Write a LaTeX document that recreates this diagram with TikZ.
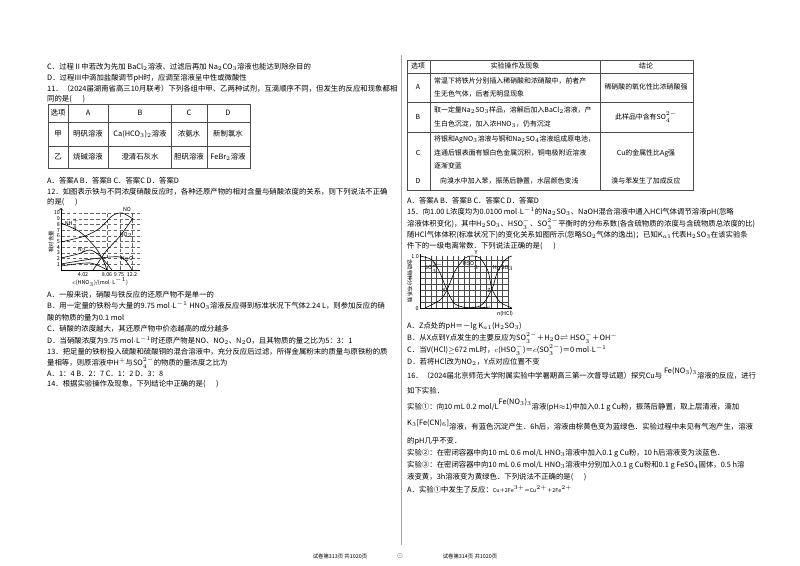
\documentclass[tikz,border=0pt]{standalone}
\usepackage{fontspec}
\setmainfont{Noto Sans CJK SC}
\newcommand{\fs}{\fontsize{6.3}{7.5}\selectfont}
\newcommand{\fst}{\fontsize{5.9}{7}\selectfont}
\newcommand{\fss}{\fontsize{4.6}{5.5}\selectfont}
\tikzset{t/.style={anchor=west,inner sep=0pt,font=\fs,text height=4.5pt,text depth=1pt},
c/.style={inner sep=0pt,font=\fs,text height=4.5pt,text depth=1pt},
tt/.style={t,font=\fst},ct/.style={c,font=\fst},
tl/.style={line width=0.5pt,draw=black!70},
gr/.style={densely dashed,line width=0.3pt,draw=black!60},
cv/.style={line width=0.5pt,smooth}}
\begin{document}
\begin{tikzpicture}[x=0.03cm,y=-0.03cm]
\useasboundingbox (0,0) rectangle (800,566);
\fill[white] (0,0) rectangle (800,566);
\draw[black!35,line width=0.6pt] (401,55) -- (401,545);
% left column
\node[t] (l1) at (47,67) {C．过程Ⅱ中若改为先加 BaCl$_2$溶液、过滤后再加 Na$_2$CO$_3$溶液也能达到除杂目的};
\node[t] (l2) at (47,78) {D．过程Ⅲ中滴加盐酸调节pH时，应调至溶液呈中性或微酸性};
\node[t] (l3) at (47,89) {11．（2024届湖南省高三10月联考）下列各组中甲、乙两种试剂，互滴顺序不同，但发生的反应和现象都相};
\node[t] (l4) at (47,99) {同的是(\quad\ \ )};
\draw[tl] (48,104) rectangle (250,168);
\foreach \y in {122,146} \draw[tl] (48,\y) -- (250,\y);
\foreach \x in {68,108,171,207} \draw[tl] (\x,104) -- (\x,168);
\node[c] at (58,113) {选项}; \node[c] at (88,113) {A}; \node[c] at (140,113) {B}; \node[c] at (189,113) {C}; \node[c] at (228,113) {D};
\node[c] at (58,134) {甲}; \node[c] at (88,134) {明矾溶液}; \node[c] at (140,134) {Ca(HCO$_3$)$_2$溶液}; \node[c] at (189,134) {浓氨水}; \node[c] at (228,134) {新制氯水};
\node[c] at (58,157) {乙}; \node[c] at (88,157) {烧碱溶液}; \node[c] at (140,157) {澄清石灰水}; \node[c] at (189,157) {胆矾溶液}; \node[c] at (228,157) {FeBr$_2$溶液};
\node[t] at (47,181) {A．答案A B．答案B C．答案C D．答案D};
\node[t] at (47,192) {12．如图表示铁与不同浓度硝酸反应时，各种还原产物的相对含量与硝酸浓度的关系，则下列说法不正确};
\node[t] at (47,202) {的是(\quad\ \ )};
% chart 12
\foreach \v in {1,...,10} {\draw[gr] (61,270-5.7*\v) -- (140,270-5.7*\v);
 \node[inner sep=0pt,font=\fss,anchor=east] at (60,270-5.7*\v) {\v};}
\foreach \x in {107,120,132} \draw[gr] (\x,270) -- (\x,213);
\draw[line width=0.6pt,->] (61,270) -- (61,208);
\draw[line width=0.6pt] (61,270) -- (140,270);
\node[inner sep=0pt,font=\fss,rotate=90] at (51,242) {相对含量};
\node[inner sep=0pt,font=\fss] at (83,275) {4.02};
\node[inner sep=0pt,font=\fss] at (107,275) {8.06};
\node[inner sep=0pt,font=\fss] at (119,275) {9.75};
\node[inner sep=0pt,font=\fss] at (132,275) {12.2};
\node[inner sep=0pt,font=\fss] at (100,282) {$c$(HNO$_3$)/(mol$\cdot$L$^{-1}$)};
\draw[cv] plot coordinates {(61,242) (85,236) (100,228) (112,216) (122,213) (133,219)};
\draw[cv] plot coordinates {(61,223) (80,232) (95,247) (103,260) (107,270)};
\draw[cv] plot coordinates {(93,270) (100,260) (107,250) (120,236) (133,218)};
\draw[cv] plot coordinates {(61,258) (78,254) (90,250) (100,256) (112,270)};
\draw[cv] plot coordinates {(61,264) (85,260) (110,257) (123,258) (132,270)};
\draw[cv] plot coordinates {(61,266) (90,263) (107,270)};
\node[inner sep=0pt,font=\fss] at (127,210) {NO};
\node[inner sep=0pt,font=\fss] at (72,224) {NH$_4^+$};
\node[inner sep=0pt,font=\fss] at (126,235) {NO$_2$};
\node[inner sep=0pt,font=\fss] at (82,250) {N$_2$};
\node[inner sep=0pt,font=\fss] at (127,259) {N$_2$O};
\node[t] at (47,295) {A．一般来说，硝酸与铁反应的还原产物不是单一的};
\node[t] at (47,306) {B．用一定量的铁粉与大量的9.75 mol$\cdot$L$^{-1}$ HNO$_3$溶液反应得到标准状况下气体2.24 L，则参加反应的硝};
\node[t] at (47,318) {酸的物质的量为0.1 mol};
\node[t] at (47,329) {C．硝酸的浓度越大，其还原产物中价态越高的成分越多};
\node[t] at (47,341) {D．当硝酸浓度为9.75 mol$\cdot$L$^{-1}$时还原产物是NO、NO$_2$、N$_2$O，且其物质的量之比为5：3：1};
\node[t] at (47,352) {13．把足量的铁粉投入硫酸和硫酸铜的混合溶液中，充分反应后过滤，所得金属粉末的质量与原铁粉的质};
\node[t] at (47,363) {量相等，则原溶液中H$^+$与SO$_4^{2-}$的物质的量浓度之比为};
\node[t] at (47,374) {A．1：4 B．2：7 C．1：2 D．3：8};
\node[t] at (47,384) {14．根据实验操作及现象，下列结论中正确的是(\quad\ \ )};
% right table
\draw[tl] (407,60) rectangle (693,190);
\foreach \y in {73,102,132} \draw[tl] (407,\y) -- (693,\y);
\foreach \x in {430,600} \draw[tl] (\x,60) -- (\x,190);
\node[ct] at (418,66) {选项}; \node[ct] at (515,66) {实验操作及现象}; \node[ct] at (646,66) {结论};
\node[ct] at (418,87) {A}; \node[tt] at (434,81) {常温下将铁片分别插入稀硝酸和浓硝酸中，前者产}; \node[tt] at (434,94) {生无色气体，后者无明显现象};
\node[ct] at (646,87) {稀硝酸的氧化性比浓硝酸强};
\node[ct] at (418,117) {B}; \node[tt] at (434,110) {取一定量Na$_2$SO$_3$样品，溶解后加入BaCl$_2$溶液，产}; \node[tt] at (434,124) {生白色沉淀，加入浓HNO$_3$，仍有沉淀};
\node[ct] at (646,117) {此样品中含有SO$_4^{2-}$};
\node[ct] at (418,153) {C}; \node[tt] at (434,139) {将银和AgNO$_3$溶液与铜和Na$_2$SO$_4$溶液组成原电池，}; \node[tt] at (434,153) {连通后银表面有银白色金属沉积，铜电极附近溶液}; \node[tt] at (434,166) {逐渐变蓝};
\node[ct] at (646,153) {Cu的金属性比Ag强};
\node[ct] at (418,181) {D}; \node[tt] at (440,181) {向溴水中加入苯，振荡后静置，水层颜色变浅};
\node[ct] at (646,181) {溴与苯发生了加成反应};
\node[t] at (407,201) {A．答案A B．答案B C．答案C D．答案D};
\node[t] at (407,212) {15．向1.00 L浓度均为0.0100 mol$\cdot$L$^{-1}$的Na$_2$SO$_3$、NaOH混合溶液中通入HCl气体调节溶液pH(忽略};
\node[t] at (407,224) {溶液体积变化)，其中H$_2$SO$_3$、HSO$_3^-$、SO$_3^{2-}$平衡时的分布系数(各含硫物质的浓度与含硫物质总浓度的比)};
\node[t] at (407,235) {随HCl气体体积(标准状况下)的变化关系如图所示(忽略SO$_2$气体的逸出)；已知K$_{a1}$代表H$_2$SO$_3$在该实验条};
\node[t] at (407,246) {件下的一级电离常数．下列说法正确的是(\quad\ \ )};
% chart 15
\foreach \i in {0,...,16} \draw[black!70,line width=0.3pt] (420+5.5*\i,256) -- (420+5.5*\i,308);
\foreach \j in {0,...,8} \draw[black!70,line width=0.3pt] (420,260+6*\j) -- (508,260+6*\j);
\draw[line width=0.6pt] (420,308) -- (512,308);
\draw[line width=0.6pt] (420,308) -- (420,254);
\draw[cv] plot coordinates {(420,256) (432,260) (440,273) (447,290) (455,304) (470,308) (490,307)};
\draw[cv] plot coordinates {(425,308) (440,300) (447,290) (455,271) (465,258) (472,256) (480,258) (488,271) (492,289) (500,302) (512,308)};
\draw[cv] plot coordinates {(455,308) (480,306) (492,289) (497,273) (505,260) (512,256)};
\node[inner sep=0pt,font=\fss] at (415,257) {1.0};
\node[inner sep=0pt,font=\fss] at (417,309) {0};
\node[inner sep=0pt,font=\fss,rotate=-90] at (410,281) {含硫物种分布系数};
\node[inner sep=0pt,font=\fss] at (434,268) {SO$_3^{2-}$};
\node[inner sep=0pt,font=\fss] at (472,264) {HSO$_3^-$};
\node[inner sep=0pt,font=\fss] at (503,268) {H$_2$SO$_3$};
\node[inner sep=0pt,font=\fss] at (444,291) {X};
\node[inner sep=0pt,font=\fss] at (489,291) {Z};
\node[inner sep=0pt,font=\fss] at (476,253) {Y};
\node[inner sep=0pt,font=\fss] at (505,314) {n(HCl)};
\node[t] at (407,326) {A．Z点处的pH＝－lg K$_{a1}$(H$_2$SO$_3$)};
\node[t] at (407,338) {B．从X点到Y点发生的主要反应为SO$_3^{2-}$＋H$_2$O$\rightleftharpoons$ HSO$_3^-$＋OH$^-$};
\node[t] at (407,350) {C．当V(HCl)$\geq$672 mL时，$c$(HSO$_3^-$)＝$c$(SO$_3^{2-}$)＝0 mol$\cdot$L$^{-1}$};
\node[t] at (407,362) {D．若将HCl改为NO$_2$，Y点对应位置不变};
\node[t] at (407,376) {16．（2024届北京师范大学附属实验中学暑期高三第一次督导试题）探究Cu与 \raisebox{1.2ex}{Fe(NO$_3$)$_3$}溶液的反应，进行};
\node[t] at (407,391) {如下实验．};
\node[t] at (407,407) {实验①：向10 mL 0.2 mol/L\raisebox{1.2ex}{Fe(NO$_3$)$_3$}溶液(pH$\approx$1)中加入0.1 g Cu粉，振荡后静置，取上层清液，滴加};
\node[t] at (407,423) {K$_3$[Fe(CN)$_6$]\raisebox{-1ex}{溶液，有蓝色沉淀产生．6h后，溶液由棕黄色变为蓝绿色．实验过程中未见有气泡产生，溶液}};
\node[t] at (407,441) {的pH几乎不变．};
\node[t] at (407,453) {实验②：在密闭容器中向10 mL 0.6 mol/L HNO$_3$溶液中加入0.1 g Cu粉，10 h后溶液变为淡蓝色．};
\node[t] at (407,465) {实验③：在密闭容器中向10 mL 0.6 mol/L HNO$_3$溶液中分别加入0.1 g Cu粉和0.1 g FeSO$_4$固体，0.5 h溶};
\node[t] at (407,477) {液变黄，3h溶液变为黄绿色．下列说法不正确的是(\quad\ \ )};
\node[t] at (407,490) {A．实验①中发生了反应：{\fss Cu＋2Fe$^{3+}$＝Cu$^{2+}$＋2Fe$^{2+}$}};
% footer
\node[inner sep=0pt,font=\fss] at (340,556) {试卷第313页\ 共1020页};
\node[inner sep=0pt,font=\fss] at (400,556) {$\odot$};
\node[inner sep=0pt,font=\fss] at (470,556) {试卷第314页\ 共1020页};
\end{tikzpicture}
\end{document}
